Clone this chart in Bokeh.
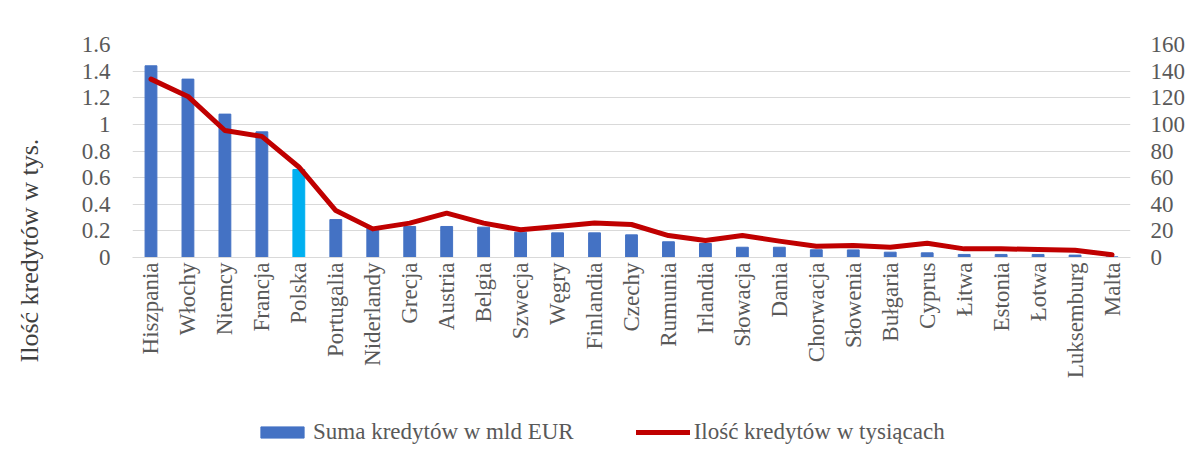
from bokeh.plotting import figure
from bokeh.layouts import column
from bokeh.models import (FactorRange, Range1d, LinearAxis, FixedTicker, Legend, LegendItem,
                          Title, ColumnDataSource)
from bokeh.embed import file_html
from bokeh.resources import INLINE
import math

countries = ["Hiszpania", "Włochy", "Niemcy", "Francja", "Polska", "Portugalia", "Niderlandy",
             "Grecja", "Austria", "Belgia", "Szwecja", "Węgry", "Finlandia", "Czechy", "Rumunia",
             "Irlandia", "Słowacja", "Dania", "Chorwacja", "Słowenia", "Bułgaria", "Cyprus",
             "Łitwa", "Estonia", "Łotwa", "Luksemburg", "Malta"]
suma_mld_eur = [1.44, 1.34, 1.077, 0.944, 0.661, 0.285, 0.22, 0.233, 0.233, 0.228, 0.19, 0.185,
                0.185, 0.17, 0.118, 0.105, 0.077, 0.077, 0.058, 0.057, 0.04, 0.035, 0.023, 0.023,
                0.023, 0.018, 0.005]
ilosc_tys = [134, 121, 95.4, 91, 68, 35.3, 21.5, 25.8, 33.3, 25.8, 20.8, 23.3, 26, 24.8, 16.5,
             12.8, 16.5, 12.3, 8.5, 9, 7.7, 10.7, 6.5, 6.5, 6, 5.5, 2]
bar_colors = ["#00B0F0" if c == "Polska" else "#4472C4" for c in countries]
left_ticks = [0, 0.2, 0.4, 0.6, 0.8, 1, 1.2, 1.4, 1.6]
left_tick_labels = ["0", "0.2", "0.4", "0.6", "0.8", "1", "1.2", "1.4", "1.6"]
right_ticks = [0, 20, 40, 60, 80, 100, 120, 140, 160]
series_names = ["Suma kredytów w mld EUR", "Ilość kredytów w tysiącach"]

FONT = "Liberation Serif"
TXT = "#595959"
BAR = "#4472C4"
LINE = "#C00000"

p = figure(frame_width=998, frame_height=213,
           x_range=FactorRange(factors=countries, range_padding=0),
           y_range=Range1d(0, 1.6), output_backend="svg", toolbar_location=None,
           min_border_left=132, min_border_right=56, min_border_top=44, min_border_bottom=153)
p.extra_y_ranges = {"right": Range1d(0, 160)}
p.outline_line_color = None
p.background_fill_color = "white"
p.border_fill_color = "white"

src = ColumnDataSource(dict(x=countries, top=suma_mld_eur, color=bar_colors, n=ilosc_tys))
p.vbar(x="x", top="top", width=0.32, color="color", source=src)
p.line(x="x", y="n", source=src, y_range_name="right", line_color=LINE,
       line_width=5, line_join="round", line_cap="round")

ax = p.yaxis[0]
ax.ticker = FixedTicker(ticks=left_ticks)
ax.major_label_overrides = {t: l for t, l in zip(left_ticks, left_tick_labels)}
ax.axis_label = " "
ax.axis_label_text_font_size = "10px"
ax.axis_label_standoff = 21
ra = LinearAxis(y_range_name="right", ticker=FixedTicker(ticks=right_ticks))
p.add_layout(ra, "right")
for a in [ax, ra]:
    a.axis_line_color = None
    a.major_tick_line_color = None
    a.minor_tick_line_color = None
    a.major_tick_in = 0
    a.major_tick_out = 0
    a.major_label_text_font = FONT
    a.major_label_text_font_size = "23px"
    a.major_label_text_color = TXT
ax.major_label_standoff = 22
ra.major_label_standoff = 20

xa = p.xaxis[0]
xa.axis_line_color = "#d9d9d9"
xa.axis_line_width = 1
xa.major_tick_line_color = None
xa.major_tick_in = 0
xa.major_tick_out = 0
xa.major_label_orientation = math.pi / 2
xa.major_label_text_font = FONT
xa.major_label_text_font_size = "23px"
xa.major_label_text_color = TXT
xa.major_label_standoff = 5

p.xgrid.grid_line_color = None
p.ygrid.grid_line_color = "#d9d9d9"
p.ygrid.grid_line_width = 1
p.ygrid.ticker = FixedTicker(ticks=left_ticks)

p.add_layout(Title(text="Ilość kredytów w tys.", align="left", offset=-105, standoff=0,
                   text_font=FONT, text_font_size="26px", text_font_style="normal",
                   text_color="#404040"), "left")

# legend strip (separate figure so the legend is not clipped); its renderers sit
# outside the visible range so only their legend swatches are seen
lg = figure(width=1186, height=40, x_range=Range1d(0, 1), y_range=Range1d(0, 1),
            output_backend="svg", toolbar_location=None, min_border=0,
            x_axis_location=None, y_axis_location=None)
lg.grid.visible = False
lg.outline_line_color = None
lb = lg.vbar(x=[-10], top=[-10], bottom=[-11], width=0.32, color=BAR)
ll = lg.line(x=[-10, -9], y=[-10, -10], line_color=LINE, line_width=5, line_cap="round")
legend = Legend(items=[LegendItem(label=series_names[0], renderers=[lb]),
                       LegendItem(label=series_names[1], renderers=[ll])],
                orientation="horizontal", location=(123, 5), padding=0, margin=0,
                spacing=62, label_standoff=4, glyph_width=54, glyph_height=14,
                border_line_color=None, background_fill_alpha=0,
                label_text_font=FONT, label_text_font_size="23px", label_text_color=TXT)
lg.add_layout(legend, "center")

open("out.html", "w").write(file_html(column(p, lg, spacing=0), INLINE))
